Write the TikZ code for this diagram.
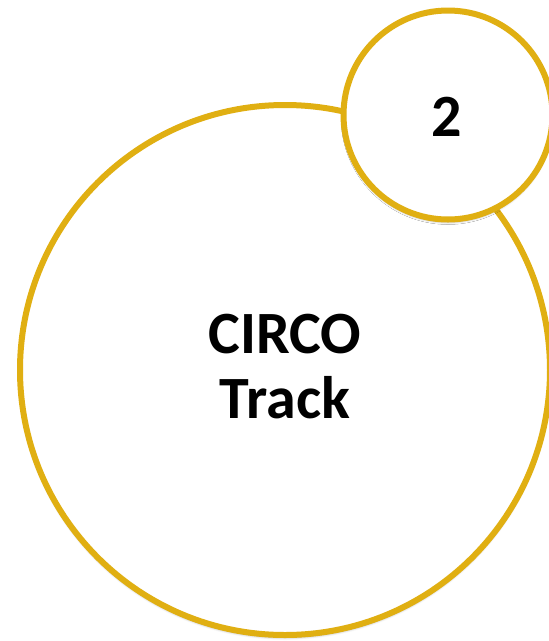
\documentclass[tikz,border=0pt]{standalone}
\usepackage{fontspec}
\setmainfont{Carlito}
\usetikzlibrary{shadows.blur}
\definecolor{gold}{RGB}{224,175,18}
\tikzset{
  ring/.style={circle, draw=gold, line width=6pt, fill=white, inner sep=0pt,
    blur shadow={shadow xshift=0pt, shadow yshift=-2.5pt, shadow blur radius=2.5pt, shadow blur steps=6, shadow opacity=35}},
  label/.style={font=\bfseries\fontsize{60}{65}\selectfont, align=center, text=black}
}
\begin{document}
\begin{tikzpicture}[x=1pt,y=-1pt]
\useasboundingbox (0,0) rectangle (549,641);
\clip (0,0) rectangle (549,641);
\node[ring, minimum size=530pt] (big) at (285,370) {};
\node[ring, minimum size=209pt] (small) at (448,115) {};
\node[label] (bigtext) at (285,367) {CIRCO\\Track};
\node[label] (smalltext) at (447,117) {2};
\end{tikzpicture}
\end{document}
